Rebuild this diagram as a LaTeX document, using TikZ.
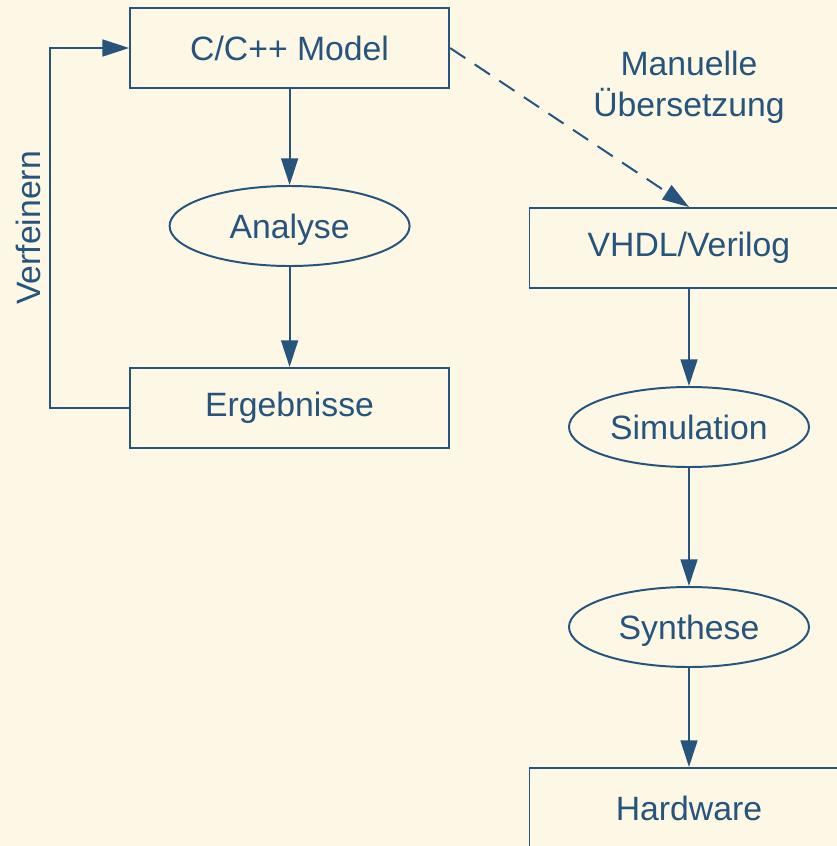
\documentclass[tikz,border=0pt]{standalone}
\usepackage{fontspec}
\setmainfont{Liberation Sans}
\usepackage{tikz}
\usetikzlibrary{shapes.geometric, arrows.meta, positioning}
\definecolor{paper}{RGB}{253,247,229}
\definecolor{ink}{RGB}{38,84,124}
\tikzset{
  flowbox/.style  = {rectangle, draw=ink, line width=1.4pt, fill=paper,
                     minimum width=7.975cm, minimum height=2cm,
                     text=ink, font=\fontsize{24}{29}\selectfont},
  flowstep/.style = {ellipse, draw=ink, line width=1.4pt, fill=paper,
                     minimum width=6cm, minimum height=2cm, inner sep=0pt,
                     text=ink, font=\fontsize{24}{29}\selectfont},
  note/.style     = {text=ink, font=\fontsize{24}{29}\selectfont, align=center},
}

\begin{document}
\begin{tikzpicture}[
  flow/.style={-{Triangle[length=19pt, width=12pt]}, line width=1.4pt, draw=ink},
  manual/.style={flow, dash pattern=on 13pt off 8pt}
]
  \fill[paper] (0,0) rectangle (20.925,-21.15);
  \useasboundingbox (0,0) rectangle (20.925,-21.15);

  % left column: modelling loop
  \node[flowbox]  (model)   at (7.24, -1.2)   {C/C++ Model};
  \node[flowstep, text depth=0pt] (analyse) at (7.24, -5.65)  {Analyse};
  \node[flowbox]  (results) at (7.24, -10.2)  {Ergebnisse};

  % right column: hardware flow
  \node[flowbox]  (vhdl)  at (17.225, -6.2)   {VHDL/Verilog};
  \node[flowstep] (sim)   at (17.225, -10.675) {Simulation};
  \node[flowstep, text depth=0pt] (synth) at (17.225, -15.675) {Synthese};
  \node[flowbox]  (hw)    at (17.225, -20.2)  {Hardware};

  \node[note] (manual) at (17.225, -2.175) {Manuelle\\Übersetzung};
  \node[note, rotate=90] (refine) at (0.7, -5.7) {Verfeinern};

  \coordinate (loop) at (1.25, -1.2);

  \draw[flow] (model) -- (analyse);
  \draw[flow] (analyse) -- (results);
  \draw[flow] (results.west) -| (loop) -- (model.west);
  \draw[manual] (model.east) -- (vhdl.north);
  \draw[flow] (vhdl) -- (sim);
  \draw[flow] (sim) -- (synth);
  \draw[flow] (synth) -- (hw);
\end{tikzpicture}
\end{document}
